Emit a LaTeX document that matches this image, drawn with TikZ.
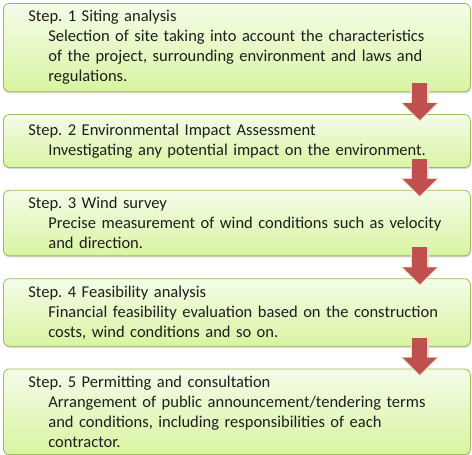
\documentclass[tikz,border=0pt]{standalone}
\usepackage{fontspec}
\setmainfont{Carlito}
\usetikzlibrary{arrows.meta,calc,positioning,shadows}
\definecolor{boxtop}{HTML}{F4FCE8}
\definecolor{boxbottom}{HTML}{D9F4A2}
\definecolor{boxline}{HTML}{9BBB59}
\definecolor{arrowred}{HTML}{C0504D}
\definecolor{arrowrim}{HTML}{E6E2CC}
\definecolor{ink}{HTML}{1E1E1E}
\hfuzz=30pt
\frenchspacing

\begin{document}
\begin{tikzpicture}[>=Latex,
  stepbox/.style={draw=boxline,line width=0.8pt,rounded corners=6pt,
    top color=boxtop,bottom color=boxbottom,
    drop shadow={opacity=0.3,shadow xshift=0.6pt,shadow yshift=-1.6pt},
    text width=417pt,inner xsep=25pt,inner ysep=7pt,align=left,text=ink,
    font=\fontsize{16.5}{20}\selectfont},
  flow/.style={line width=15pt,arrowred,-{Triangle[width=33pt,length=17pt]}},
  flowrim/.style={line width=18pt,arrowrim,-{Triangle[width=38pt,length=19pt]}}]
\useasboundingbox (0,0) rectangle (472pt,-455pt);
% steps
\node[stepbox,anchor=north west] (s1) at (3pt,-3pt) {Step. 1 Siting analysis\\
  \hspace*{20pt}Selection of site taking into account the characteristics\\
  \hspace*{20pt}of the project, surrounding environment and laws and\\
  \hspace*{20pt}regulations.};
\node[stepbox,minimum height=53pt,below=22pt of s1] (s2) {Step. 2 Environmental Impact Assessment\\
  \hspace*{20pt}Investigating any potential impact on the environment.};
\node[stepbox,below=22pt of s2] (s3) {Step. 3 Wind survey\\
  \hspace*{20pt}Precise measurement of wind conditions such as velocity\\
  \hspace*{20pt}and direction.};
\node[stepbox,below=22pt of s3] (s4) {Step. 4 Feasibility analysis\\
  \hspace*{20pt}Financial feasibility evaluation based on the construction\\
  \hspace*{20pt}costs, wind conditions and so on.};
\node[stepbox,below=22pt of s4] (s5) {Step. 5 Permitting and consultation\\
  \hspace*{20pt}Arrangement of public announcement/tendering terms\\
  \hspace*{20pt}and conditions, including responsibilities of each\\
  \hspace*{20pt}contractor.};
% block arrows
\foreach \a/\b in {s1/s2,s2/s3,s3/s4,s4/s5}{
  \draw[flowrim] ($(\a.south east)+(-51pt,9pt)$) -- ($(\b.north east)+(-51pt,-7.5pt)$);
  \draw[flow] ($(\a.south east)+(-51pt,9pt)$) -- ($(\b.north east)+(-51pt,-6pt)$);
}
\end{tikzpicture}
\end{document}
